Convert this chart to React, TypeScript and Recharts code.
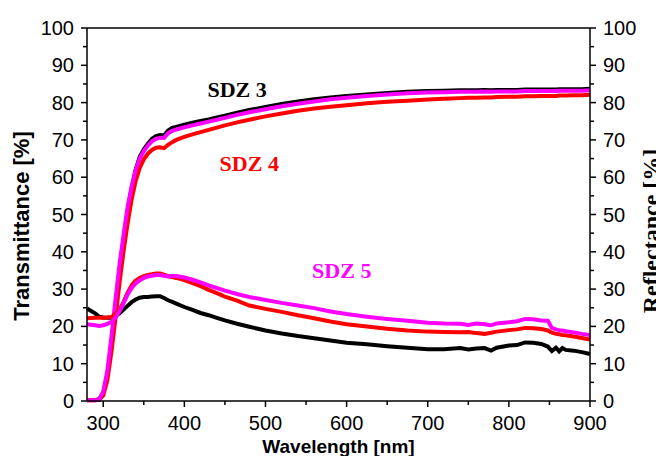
import React from 'react';
import { LineChart, Line, XAxis, YAxis, ReferenceLine, ReferenceDot } from 'recharts';

// wavelength grid shared by all six curves [nm]
const wavelengths = [
    280, 290, 295, 300, 305, 310, 315, 320, 325, 330,
    335, 340, 345, 350, 355, 360, 365, 370, 375, 380,
    385, 390, 400, 410, 420, 430, 440, 450, 465, 480,
    500, 520, 540, 560, 580, 600, 625, 650, 675, 700,
    720, 740, 750, 760, 770, 778, 785, 800, 810, 820,
    830, 840, 848, 853, 858, 862, 866, 870, 880, 890,
    900,
];

// transmittance [%], left axis
const sdz3T = [
    0.3, 0.3, 0.5, 2, 7, 15, 25, 35, 43, 51,
    57, 62, 65.5, 67.5, 69, 70.3, 71, 71.3, 71.2, 72.5,
    73.2, 73.5, 74.1, 74.6, 75.1, 75.5, 76, 76.5, 77.3, 78,
    78.8, 79.6, 80.3, 80.9, 81.4, 81.8, 82.2, 82.6, 82.9, 83.1,
    83.2, 83.3, 83.3, 83.3, 83.4, 83.3, 83.4, 83.4, 83.4, 83.5,
    83.5, 83.5, 83.5, 83.5, 83.5, 83.6, 83.6, 83.6, 83.6, 83.6,
    83.7,
];
const sdz4T = [
    0.2, 0.2, 0.3, 1.5, 5.5, 13, 22, 31.5, 40, 47.5,
    54, 59, 62.5, 64.8, 66.3, 67.3, 67.9, 68, 67.8, 68.7,
    69.4, 70, 70.8, 71.5, 72.1, 72.7, 73.3, 73.9, 74.7, 75.4,
    76.3, 77.1, 77.8, 78.4, 78.9, 79.3, 79.8, 80.2, 80.5, 80.8,
    81, 81.2, 81.3, 81.3, 81.4, 81.4, 81.5, 81.6, 81.6, 81.7,
    81.7, 81.8, 81.8, 81.8, 81.8, 81.9, 81.9, 81.9, 82, 82,
    82.1,
];
const sdz5T = [
    0.2, 0.2, 0.4, 2.5, 8, 17, 27, 36.5, 44.5, 52,
    57.5, 62, 65, 67, 68.5, 69.6, 70.3, 70.6, 70.5, 71.8,
    72.4, 72.8, 73.4, 73.9, 74.4, 74.9, 75.4, 75.9, 76.7, 77.4,
    78.2, 79, 79.7, 80.3, 80.9, 81.3, 81.8, 82.2, 82.5, 82.7,
    82.8, 82.9, 82.9, 82.9, 83, 82.9, 83, 83, 83, 83.1,
    83.1, 83.1, 83.1, 83.1, 83.1, 83.2, 83.2, 83.2, 83.2, 83.2,
    83.3,
];

// reflectance [%], right axis
const sdz3R = [
    24.8, 23.5, 22.6, 22.4, 22.3, 22.3, 22.8, 23.5, 24.5, 25.5,
    26.5, 27.2, 27.7, 27.9, 27.9, 28, 28.1, 28.1, 27.6, 27,
    26.6, 26.1, 25.2, 24.4, 23.6, 23, 22.3, 21.6, 20.7, 19.9,
    18.9, 18.1, 17.4, 16.8, 16.2, 15.6, 15.2, 14.7, 14.3, 13.9,
    13.9, 14.2, 13.8, 14.1, 14.2, 13.5, 14.3, 14.9, 15, 15.7,
    15.6, 15.3, 14.6, 13.4, 14.3, 13.3, 14.2, 13.7, 13.5, 13.1,
    12.6,
];
const sdz4R = [
    22.2, 22.3, 22.3, 22.3, 22.4, 22.5, 23.3, 24.5, 26.5, 29,
    31, 32.3, 33, 33.5, 33.8, 34, 34.2, 34.2, 33.9, 33.5,
    33.2, 33, 32.4, 31.6, 30.8, 29.8, 28.9, 28, 26.9, 25.6,
    24.7, 23.9, 23, 22.2, 21.3, 20.6, 20, 19.4, 18.9, 18.6,
    18.5, 18.4, 18.5, 18.2, 18, 18.3, 18.6, 19, 19.2, 19.6,
    19.5, 19.3, 18.9, 18.3, 18, 17.9, 17.7, 17.6, 17.3, 16.9,
    16.5,
];
const sdz5R = [
    20.6, 20.3, 20.1, 20.3, 20.7, 21.2, 22.3, 24, 26.2, 28.5,
    30.3, 31.5, 32.4, 33, 33.4, 33.6, 33.8, 33.8, 33.6, 33.4,
    33.5, 33.5, 33.1, 32.5, 31.8, 31, 30.3, 29.6, 28.7, 27.9,
    27.1, 26.3, 25.6, 24.9, 24, 23.3, 22.6, 22, 21.5, 21,
    20.8, 20.7, 20.4, 20.8, 20.6, 20.3, 20.8, 21.1, 21.4, 22,
    21.9, 21.6, 21.5, 19.6, 19.2, 19, 18.9, 18.7, 18.4, 18,
    17.7,
];

const xTicks = [300, 350, 400, 450, 500, 550, 600, 650, 700, 750, 800, 850, 900];
const yTicks = [0, 5, 10, 15, 20, 25, 30, 35, 40, 45, 50, 55, 60, 65, 70, 75, 80, 85, 90, 95, 100];

const sampleNames = ['SDZ 3', 'SDZ 4', 'SDZ 5'];
const sampleColors = ['#000000', '#ff0000', '#ff00ff'];
// where each sample name sits, in data units (wavelength, %)
const tagPositions = [
    [465, 81.5],
    [480, 61.7],
    [594, 33],
];

const data = wavelengths.map((w, i) => ({
    w,
    t3: sdz3T[i],
    t4: sdz4T[i],
    t5: sdz5T[i],
    r3: sdz3R[i],
    r4: sdz4R[i],
    r5: sdz5R[i],
}));

const SANS = '"Liberation Sans", Arial, sans-serif';
const SERIF = '"Liberation Serif", "Times New Roman", serif';

const BottomTick = (props: any) => {
    const { x, y, payload } = props;
    const major = payload.value % 100 === 0;
    return (
        <g>
            <line x1={x} y1={y} x2={x} y2={y + (major ? 6 : 4)} stroke="#000" strokeWidth={1.5} />
            {major && (
                <text x={x} y={y + 29} textAnchor="middle" fontFamily={SANS} fontSize={20} fill="#000">
                    {payload.value}
                </text>
            )}
        </g>
    );
};

const SideTick = (props: any) => {
    const { x, y, payload, side } = props;
    const major = payload.value % 10 === 0;
    const dir = side === 'left' ? -1 : 1;
    return (
        <g>
            <line x1={x} y1={y} x2={x + dir * (major ? 6 : 4)} y2={y} stroke="#000" strokeWidth={1.5} />
            {major && (
                <text
                    x={x + dir * 13}
                    y={y + 7}
                    textAnchor={side === 'left' ? 'end' : 'start'}
                    fontFamily={SANS}
                    fontSize={20}
                    fill="#000"
                >
                    {payload.value}
                </text>
            )}
        </g>
    );
};

const LeftTitle = (props: any) => {
    const { viewBox } = props;
    const cx = viewBox.x + 29;
    const cy = viewBox.y + 198;
    return (
        <text
            x={cx}
            y={cy}
            transform={`rotate(-90, ${cx}, ${cy})`}
            textAnchor="middle"
            fontFamily={SANS}
            fontWeight="bold"
            fontSize={22}
            fill="#000"
        >
            Transmittance [%]
        </text>
    );
};

// the reference crops this title at the right edge of the picture
const RightTitle = (props: any) => {
    const { viewBox } = props;
    const cx = viewBox.x + 69;
    const cy = viewBox.y + 203;
    return (
        <text
            x={cx}
            y={cy}
            transform={`rotate(-90, ${cx}, ${cy})`}
            textAnchor="middle"
            fontFamily={SERIF}
            fontWeight="bold"
            fontSize={24}
            fill="#000"
        >
            Reflectance [%]
        </text>
    );
};

const BottomTitle = (props: any) => {
    const { viewBox } = props;
    return (
        <text
            x={viewBox.x + viewBox.width / 2}
            y={viewBox.y + 52}
            textAnchor="middle"
            fontFamily={SANS}
            fontWeight="bold"
            fontSize={19}
            fill="#000"
        >
            Wavelength [nm]
        </text>
    );
};

const SampleTag = (props: any) => {
    const { viewBox, text, color } = props;
    return (
        <text
            x={viewBox.x}
            y={viewBox.y}
            textAnchor="middle"
            fontFamily={SERIF}
            fontWeight="bold"
            fontSize={22}
            fill={color}
        >
            {text}
        </text>
    );
};

export default function App() {
    return (
        <div style={{ position: 'absolute', left: 0, top: 0, width: 656, height: 456, background: '#fff' }}>
            <LineChart width={656} height={456} data={data} margin={{ top: 28, right: 0, bottom: 0, left: 0 }}>
                <XAxis
                    dataKey="w"
                    type="number"
                    domain={[280, 900]}
                    ticks={xTicks}
                    interval={0}
                    height={55}
                    tickSize={0}
                    tickMargin={0}
                    tickLine={false}
                    axisLine={{ stroke: '#000', strokeWidth: 1.5 }}
                    tick={<BottomTick />}
                    label={<BottomTitle />}
                />
                <YAxis
                    yAxisId="left"
                    domain={[0, 100]}
                    ticks={yTicks}
                    interval={0}
                    width={87}
                    tickSize={0}
                    tickMargin={0}
                    tickLine={false}
                    axisLine={{ stroke: '#000', strokeWidth: 1.5 }}
                    tick={<SideTick side="left" />}
                    label={<LeftTitle />}
                />
                <YAxis
                    yAxisId="right"
                    orientation="right"
                    domain={[0, 100]}
                    ticks={yTicks}
                    interval={0}
                    width={66}
                    tickSize={0}
                    tickMargin={0}
                    tickLine={false}
                    axisLine={{ stroke: '#000', strokeWidth: 1.5 }}
                    tick={<SideTick side="right" />}
                    label={<RightTitle />}
                />
                <ReferenceLine yAxisId="left" y={100} stroke="#000" strokeWidth={1.5} />
                <Line yAxisId="left" dataKey="t3" stroke={sampleColors[0]} strokeWidth={4} dot={false} isAnimationActive={false} />
                <Line yAxisId="left" dataKey="t4" stroke={sampleColors[1]} strokeWidth={4} dot={false} isAnimationActive={false} />
                <Line yAxisId="left" dataKey="t5" stroke={sampleColors[2]} strokeWidth={4} dot={false} isAnimationActive={false} />
                <Line yAxisId="right" dataKey="r3" stroke={sampleColors[0]} strokeWidth={4} dot={false} isAnimationActive={false} />
                <Line yAxisId="right" dataKey="r4" stroke={sampleColors[1]} strokeWidth={4} dot={false} isAnimationActive={false} />
                <Line yAxisId="right" dataKey="r5" stroke={sampleColors[2]} strokeWidth={4} dot={false} isAnimationActive={false} />
                {sampleNames.map((name, i) => (
                    <ReferenceDot
                        key={name}
                        yAxisId="left"
                        x={tagPositions[i][0]}
                        y={tagPositions[i][1]}
                        r={0}
                        fill="none"
                        stroke="none"
                        label={<SampleTag text={name} color={sampleColors[i]} />}
                    />
                ))}
            </LineChart>
        </div>
    );
}
